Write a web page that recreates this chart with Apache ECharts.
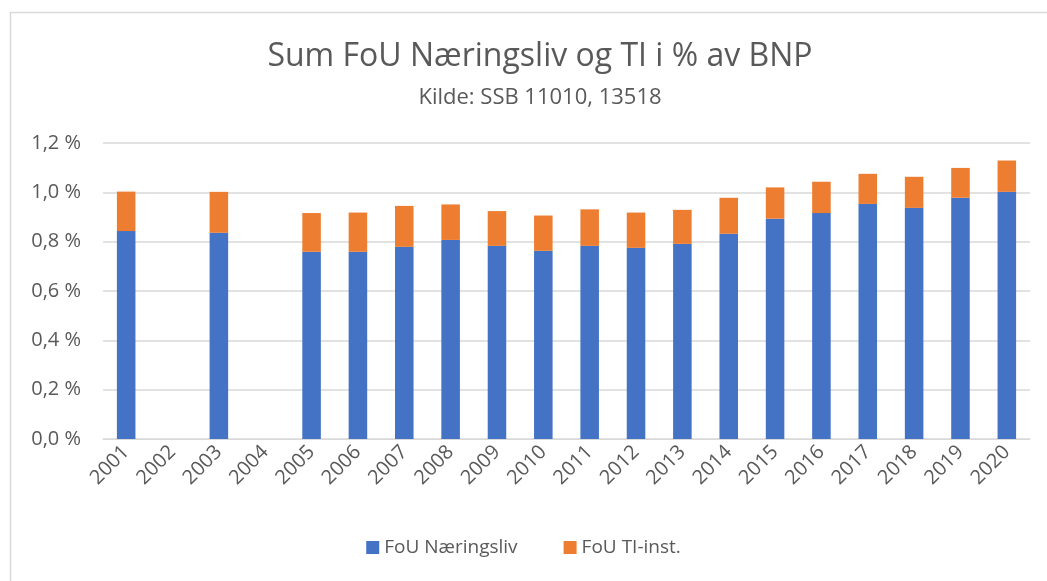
<!DOCTYPE html>
<html>
<head>
<meta charset="utf-8">
<script src="https://cdn.jsdelivr.net/npm/echarts@6/dist/echarts.min.js"></script>
<style>
html,body{margin:0;padding:0;background:#fff;}
#c{width:1047px;height:581px;}
</style>
</head>
<body>
<div id="c"></div>
<script>
const years = ['2001','2002','2003','2004','2005','2006','2007','2008','2009','2010','2011','2012','2013','2014','2015','2016','2017','2018','2019','2020'];
const fouNaeringsliv = [0.843,null,0.836,null,0.759,0.759,0.779,0.807,0.783,0.763,0.783,0.775,0.791,0.832,0.893,0.916,0.953,0.937,0.978,1.002];
const fouTI = [0.160,null,0.166,null,0.157,0.159,0.166,0.144,0.141,0.143,0.148,0.143,0.138,0.146,0.127,0.127,0.122,0.126,0.121,0.127];
const yTicks = [0,0.2,0.4,0.6,0.8,1.0,1.2];

const FONT = '"Open Sans", "Noto Sans", sans-serif';
const chart = echarts.init(document.getElementById('c'), null, {renderer:'canvas'});
chart.setOption({
  animation:false,
  backgroundColor:'#fff',
  textStyle:{fontFamily:FONT},
  graphic:[{type:'rect',shape:{x:10.5,y:12.5,width:1100,height:640},style:{fill:'none',stroke:'#d9d9d9',lineWidth:1.5},silent:true}],
  title:{
    text:'Sum FoU Næringsliv og TI i % av BNP',
    subtext:'Kilde: SSB 11010, 13518',
    left:535, textAlign:'center', top:36, itemGap:14,
    textStyle:{fontFamily:FONT,fontSize:32,fontWeight:'normal',color:'#595959'},
    subtextStyle:{fontFamily:FONT,fontSize:22,color:'#595959'}
  },
  legend:{
    bottom:19, left:'center', itemWidth:13, itemHeight:13, itemGap:46,
    icon:'rect',
    textStyle:{fontFamily:FONT,fontSize:19,color:'#595959'},
    data:['FoU Næringsliv','FoU TI-inst.']
  },
  grid:{left:103,right:17,top:143,bottom:142,containLabel:false},
  xAxis:{
    type:'category', data:years,
    axisLine:{lineStyle:{color:'#d9d9d9',width:1}},
    axisTick:{show:false},
    axisLabel:{rotate:45,fontSize:20,color:'#595959',fontFamily:FONT,margin:10,interval:0}
  },
  yAxis:{
    type:'value', min:0, max:1.2, interval:0.2,
    axisLine:{show:false}, axisTick:{show:false},
    splitLine:{lineStyle:{color:'#d9d9d9',width:1.5}},
    axisLabel:{fontSize:20,color:'#595959',fontFamily:FONT,margin:22,
      formatter:v=>v.toFixed(1).replace('.',',')+' %'}
  },
  series:[
    {name:'FoU Næringsliv',type:'bar',stack:'s',data:fouNaeringsliv,barWidth:'40%',
      itemStyle:{color:'#4472c4'}},
    {name:'FoU TI-inst.',type:'bar',stack:'s',data:fouTI,barWidth:'40%',
      itemStyle:{color:'#ed7d31'}}
  ]
});
</script>
</body>
</html>
